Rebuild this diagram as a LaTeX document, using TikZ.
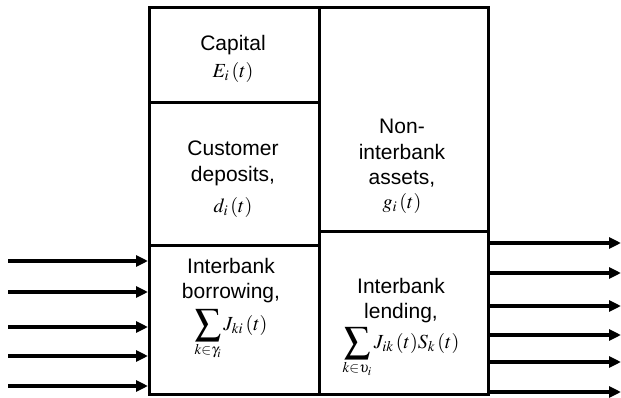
\documentclass[tikz,border=0pt]{standalone}
\usepackage{mathptmx}
\usepackage{graphicx}
\usepackage{fontspec}
\setmainfont{Liberation Sans}
\usetikzlibrary{arrows.meta}
\newcommand{\bigsumop}{\mathop{\vcenter{\hbox{\scalebox{1.3}{$\displaystyle\sum$}}}}\limits}
\begin{document}
\begin{tikzpicture}[x=1pt,y=-1pt,
  cell/.style={draw,line width=3.2pt,inner sep=0pt,anchor=north west},
  lbl/.style={font=\fontsize{21}{25}\selectfont,inner sep=0pt},
  mth/.style={font=\fontsize{20}{24}\selectfont,inner sep=0pt},
  flow/.style={line width=3.2pt,-{Triangle[length=12pt,width=11pt]}}]
\useasboundingbox (0,0) rectangle (621,398);
% cells
\node[cell,minimum width=170pt,minimum height=95pt] (cap) at (148,6) {};
\node[cell,minimum width=170pt,minimum height=143pt] (dep) at (148,101) {};
\node[cell,minimum width=170pt,minimum height=149pt] (bor) at (148,244) {};
\node[cell,minimum width=169pt,minimum height=224pt] (non) at (318,6) {};
\node[cell,minimum width=169pt,minimum height=163pt] (len) at (318,230) {};
% texts
\node[lbl] (t1) at (233,45) {Capital};
\node[mth] (m1) at (233,73) {$E_i\,(t)$};
\node[lbl] (t2) at (233,148) {Customer};
\node[lbl] (t3) at (233,176) {deposits,};
\node[mth] (m2) at (233,208) {$d_i\,(t)$};
\node[lbl] (t4) at (402,126) {Non-};
\node[lbl] (t5) at (402,152) {interbank};
\node[lbl] (t6) at (402,179) {assets,};
\node[mth] (m3) at (402,203) {$g_i\,(t)$};
\node[lbl] (t7) at (231,266) {Interbank};
\node[lbl] (t8) at (231,293) {borrowing,};
\node[mth,anchor=north] (m4) at (231,309) {$\bigsumop_{k\in\gamma_i} J_{ki}\,(t)$};
\node[lbl] (t9) at (401,286) {Interbank};
\node[lbl] (t10) at (401,313) {lending,};
\node[mth,anchor=north] (m5) at (401,327) {$\bigsumop_{k\in\upsilon_i} J_{ik}\,(t)S_k\,(t)$};
% incoming arrows
\foreach \y [count=\i] in {261,292,327,356,386}{
  \coordinate (in\i) at (8,\y);
  \draw[flow] (in\i) -- (bor.west |- in\i);
}
% outgoing arrows
\foreach \y [count=\i] in {243,273,306,335,362,392}{
  \coordinate (out\i) at (621,\y);
  \draw[flow] (len.east |- out\i) -- (out\i);
}
\end{tikzpicture}
\end{document}
